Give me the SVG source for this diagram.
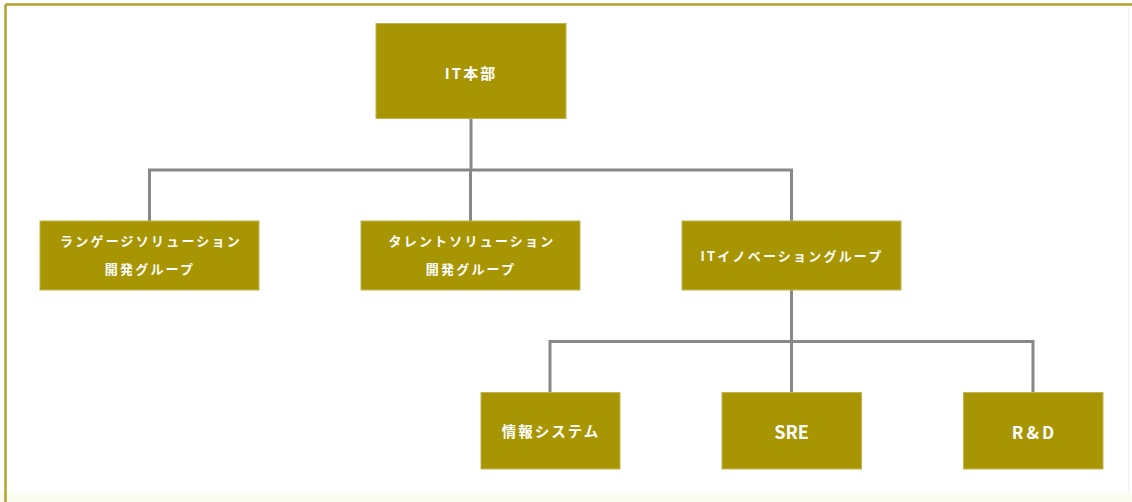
<svg xmlns="http://www.w3.org/2000/svg" width="1132" height="502" viewBox="0 0 1132 502">
<style>
.box{fill:#a89503;stroke:#c2b44e;stroke-width:1}
.t{fill:#ffffff;font-family:"Noto Sans CJK JP","Noto Sans",sans-serif;font-weight:bold;text-anchor:middle;dominant-baseline:central}
.c{fill:none;stroke:#888888;stroke-width:3}
.frame{stroke:#b0a22a;stroke-width:2.5;fill:none}
</style>
<rect x="0" y="0" width="1132" height="502" fill="#ffffff"/>
<rect x="0" y="493" width="1132" height="9" fill="#fafcf0"/>
<g id="frame">
<line class="frame" x1="5.5" y1="4.5" x2="1132" y2="4.5"/>
<line class="frame" x1="5.5" y1="4.5" x2="5.5" y2="502"/>
<line x1="1128.5" y1="6" x2="1128.5" y2="493" stroke="#f1f1ea" stroke-width="1"/>
</g>
<g id="connectors">
<path class="c" d="M471,119 V170"/>
<path class="c" d="M149.5,221 V170 H791.5 V221"/>
<path class="c" d="M470.5,170 V221"/>
<path class="c" d="M791.5,290 V341.5"/>
<path class="c" d="M550,392 V341.5 H1033 V392"/>
<path class="c" d="M791.5,341.5 V392"/>
</g>
<g id="n-it">
<rect class="box" x="376" y="23.5" width="190" height="95"/>
<text class="t" x="471" y="72" font-size="15" letter-spacing="2">IT本部</text>
</g>
<g id="n-lang">
<rect class="box" x="40" y="221" width="219" height="69"/>
<text class="t" x="151" y="240" font-size="13" letter-spacing="2.2">ランゲージソリューション</text>
<text class="t" x="150" y="268" font-size="13" letter-spacing="2.2">開発グループ</text>
</g>
<g id="n-talent">
<rect class="box" x="361" y="221" width="219" height="69"/>
<text class="t" x="472" y="240" font-size="13" letter-spacing="2.2">タレントソリューション</text>
<text class="t" x="471" y="268" font-size="13" letter-spacing="2.2">開発グループ</text>
</g>
<g id="n-itinno">
<rect class="box" x="682" y="221" width="219" height="69"/>
<text class="t" x="792" y="255" font-size="13" letter-spacing="2.2">ITイノベーショングループ</text>
</g>
<g id="n-info">
<rect class="box" x="481" y="392.5" width="139" height="76.5"/>
<text class="t" x="551" y="430" font-size="14.5" letter-spacing="2">情報システム</text>
</g>
<g id="n-sre">
<rect class="box" x="722" y="392.5" width="139.5" height="76.5"/>
<text class="t" x="791.5" y="431" font-size="18">SRE</text>
</g>
<g id="n-rd">
<rect class="box" x="963.5" y="392.5" width="139.5" height="76.5"/>
<text class="t" x="1034.5" y="431" font-size="17" letter-spacing="3">R&amp;D</text>
</g>
</svg>
